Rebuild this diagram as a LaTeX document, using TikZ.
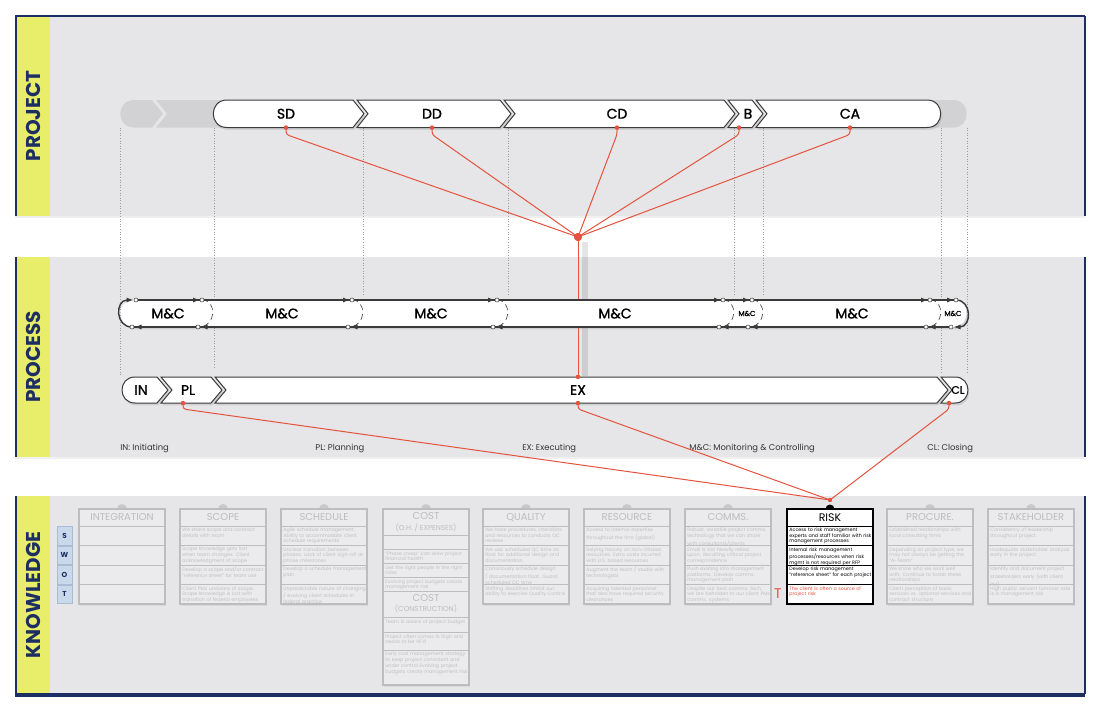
\documentclass[tikz,border=0pt]{standalone}
\usepackage{fontspec}
\setmainfont{Poppins}
\newfontfamily\phasefont{Poppins}[FakeBold=1.3]
\usetikzlibrary{shapes,arrows,shadows,calc}
\usetikzlibrary{arrows.meta}
\usetikzlibrary{positioning}
\hyphenpenalty=10000
\exhyphenpenalty=10000
\definecolor{clrNavy}{HTML}{1D2F62}
\definecolor{clrYellow}{HTML}{E9EE6A}
\definecolor{clrPanel}{HTML}{E6E6E8}
\definecolor{clrBar}{HTML}{3A3A3A}
\definecolor{clrGhost}{HTML}{D2D2D4}
\definecolor{clrGuide}{HTML}{9C9C9E}
\definecolor{clrRed}{HTML}{E4533D}
\definecolor{clrLegend}{HTML}{333333}
\definecolor{clrBoxFill}{HTML}{EBEBED}
\definecolor{clrBoxLine}{HTML}{BDBDBF}
\definecolor{clrFaintText}{HTML}{C0C0C2}
\definecolor{clrTab}{HTML}{C9C9CB}
\definecolor{clrSwot}{HTML}{C9D8EA}
\definecolor{clrSwotLine}{HTML}{A8BCD4}
\tikzstyle{panel}=[fill=clrPanel, drop shadow={shadow xshift=0pt,shadow yshift=-1.2pt,opacity=0.12}]
\tikzstyle{side}=[fill=clrYellow]
\tikzstyle{edge}=[draw=clrNavy, line width=1pt]
\tikzstyle{band_label}=[rotate=90, text=clrNavy, font=\fontsize{10}{10}\selectfont\bfseries]
\tikzstyle{guide}=[draw=clrGuide, densely dotted, line width=0.3pt]
\tikzstyle{seg}=[fill=white, draw=clrBar, line width=0.5pt, drop shadow={shadow xshift=0.6pt,shadow yshift=-1.2pt,opacity=0.22}]
\tikzstyle{ghost}=[fill=clrGhost]
\tikzstyle{phase}=[font=\phasefont\fontsize{7}{7}\selectfont, text=black, inner sep=0pt]
\tikzstyle{phase_small}=[phase, font=\phasefont\fontsize{3.6}{3.6}\selectfont]
\tikzstyle{mcline}=[draw=clrBar, line width=0.7pt]
\tikzstyle{mcloop}=[draw=clrBar, densely dashed, line width=0.3pt]
\tikzstyle{mcarr}=[mcline, -{Latex[length=3.5pt,width=2.6pt]}]
\tikzstyle{ring}=[circle, draw=clrBar, fill=white, line width=0.25pt, inner sep=0pt, minimum size=2pt]
\tikzstyle{redline}=[draw=clrRed, line width=0.5pt, rounded corners=1.5pt]
\tikzstyle{rdot}=[circle, fill=clrRed, inner sep=0pt, minimum size=2.2pt]
\tikzstyle{hubdot}=[rdot, minimum size=4pt]
\tikzstyle{legend}=[anchor=west, inner sep=0pt, font=\fontsize{4.2}{4.2}\selectfont, text=clrLegend]
\tikzstyle{kframe}=[fill=clrBoxFill, draw=clrBoxLine, line width=0.75pt, drop shadow={shadow xshift=0.5pt,shadow yshift=-1pt,opacity=0.12}]
\tikzstyle{krule}=[draw=clrBoxLine, line width=0.35pt]
\tikzstyle{ktitle}=[font=\fontsize{5}{5}\selectfont, text=clrBoxLine, inner sep=0pt]
\tikzstyle{ksub}=[font=\fontsize{3.6}{3.6}\selectfont, text=clrBoxLine, inner sep=0pt]
\tikzstyle{krow}=[anchor=north west, inner sep=0pt, text width=41.5pt, align=left, font=\fontsize{2.4}{2.85}\selectfont, text=clrFaintText]
\tikzstyle{swot}=[draw=clrSwotLine, fill=clrSwot, line width=0.3pt, minimum width=7.5pt, minimum height=9.3pt, inner sep=0pt, font=\fontsize{3.6}{3.6}\selectfont\bfseries, text=clrNavy]
% one grey knowledge card: name, left x, title, four rows
\newcommand{\kbox}[7]{%
	\fill[clrTab] (#2+43,509) circle[radius=5];
	\path[kframe] (#2,509) rectangle (#2+86,604);
	\foreach \yy in {526,545.5,565,584.5} \draw[krule] (#2,\yy) -- (#2+86,\yy);
	\node[ktitle] (#1-t) at (#2+43,517.5) {#3};
	\node[krow] (#1-1) at (#2+2,527.5) {#4};
	\node[krow] (#1-2) at (#2+2,547) {#5};
	\node[krow] (#1-3) at (#2+2,566.5) {#6};
	\node[krow] (#1-4) at (#2+2,586) {#7};
}
\def\pT{100}\def\pU{127.5}\def\pC{113.75}
\def\mT{300}\def\mU{327}\def\mC{313.5}
\def\lT{377}\def\lU{403}\def\lC{390}
\begin{document}
\begin{tikzpicture}[x=0.5pt,y=-0.5pt]
	\useasboundingbox (0,0) rectangle (1100,712);

	% bands
	\path[panel] (15,16) rectangle (1085,216);
	\path[panel] (15,257) rectangle (1085,457);
	\path[panel] (15,496) rectangle (1085,694);
	\foreach \ya/\yb in {16/216, 257/457, 496/694} {
		\fill[side] (16,\ya) rectangle (50,\yb);
		\draw[edge] (15.5,\ya) -- (15.5,\yb);
		\draw[edge] (1084.5,\ya) -- (1084.5,\yb);
	}
	\draw[edge] (15,16) -- (1085,16);
	\draw[draw=clrNavy, line width=2pt] (15,695) -- (1085,695);
	\node[band_label] (lblProject) at (33,116) {PROJECT};
	\node[band_label] (lblProcess) at (33,357) {PROCESS};
	\node[band_label] (lblKnowledge) at (33,595) {KNOWLEDGE};

	% dotted guides
	\foreach \x/\yb in {120/377, 214/367, 363/296, 508/296, 734/296, 763/296, 941/372, 967/372}
		\draw[guide] (\x,\pU) -- (\x,\yb);

	% red links
	\node[hubdot] (hub) at (578,237) {};
	\node[rdot] (dSD) at (286,\pU) {};
	\node[rdot] (dDD) at (432,\pU) {};
	\node[rdot] (dCD) at (617,\pU) {};
	\node[rdot] (dB) at (739,\pU) {};
	\node[rdot] (dCA) at (850,\pU) {};
	\node[rdot] (dEXt) at (578,\lT) {};
	\node[rdot] (dPL) at (183,\lU) {};
	\node[rdot] (dEXb) at (578,\lU) {};
	\node[rdot] (dCL) at (949,\lU) {};
	\draw[line width=3pt, black, opacity=0.1] (585,242) -- (585,376);
	\foreach \d in {dSD,dDD,dCD,dB,dCA}
		\draw[redline] (\d.center) -- ++(0,7) -- (hub.center);
	\draw[redline] (hub.center) -- (dEXt.center);

	% project phases
	\path[ghost] (134,\pT) -- (152,\pT) -- (163,\pC) -- (152,\pU) -- (134,\pU) .. controls (115.7,\pU) and (115.7,\pT) .. (134,\pT) -- cycle;
	\path[ghost] (156,\pT) -- (225,\pT) -- (225,\pU) -- (156,\pU) -- (167,\pC) -- cycle;
	\path[ghost] (930,\pT) -- (953,\pT) .. controls (971.3,\pT) and (971.3,\pU) .. (953,\pU) -- (930,\pU) -- cycle;
	\path[seg] (227,\pT) -- (353,\pT) -- (364,\pC) -- (353,\pU) -- (227,\pU) .. controls (208.7,\pU) and (208.7,\pT) .. (227,\pT) -- cycle;
	\foreach \a/\b in {357/500, 504/724, 728/752}
		\path[seg] (\a,\pT) -- (\b,\pT) -- (\b+11,\pC) -- (\b,\pU) -- (\a,\pU) -- (\a+11,\pC) -- cycle;
	\path[seg] (756,\pT) -- (927,\pT) .. controls (945.3,\pT) and (945.3,\pU) .. (927,\pU) -- (756,\pU) -- (767,\pC) -- cycle;
	\node[phase] (SD) at (286,\pC) {SD};
	\node[phase] (DD) at (432,\pC) {DD};
	\node[phase] (CD) at (617,\pC) {CD};
	\node[phase] (B) at (748,\pC) {B};
	\node[phase] (CA) at (850,\pC) {CA};
	\foreach \d in {dSD,dDD,dCD,dB,dCA} \node[rdot] at (\d) {};
	\node[hubdot] at (hub) {};

	% monitoring and controlling loop
	\fill[white, drop shadow={shadow xshift=0.6pt,shadow yshift=-1.2pt,opacity=0.22}] (134,\mT) -- (953,\mT) .. controls (971,\mT) and (971,\mU) .. (953,\mU) -- (134,\mU) .. controls (116,\mU) and (116,\mT) .. (134,\mT) -- cycle;
	\draw[mcline] (136,\mT) -- (954,\mT);
	\draw[mcline] (132,\mU) -- (951,\mU);
	\draw[mcarr] (132,\mU) .. controls (115,\mU) and (115,\mT) .. (133.5,\mT);
	\draw[mcarr] (146,\mU) -- (134.5,\mU);
	\node[ring] (rtL) at (136,\mT) {};
	\node[ring] (rbL) at (132,\mU) {};
	\foreach \b in {213,363,508,734,763,941} {
		\draw[mcloop] (\b-11,\mT) .. controls (\b+4,\mT) and (\b+4,\mU) .. (\b-15,\mU);
		\draw[mcarr] (\b-25,\mT) -- (\b-13,\mT);
		\draw[mcarr] (\b-1,\mU) -- (\b-12.5,\mU);
		\node[ring] (rt\b) at (\b-11,\mT) {};
		\node[ring] (rb\b) at (\b-15,\mU) {};
	}
	\draw[mcarr] (944,\mT) -- (954,\mT);
	\draw[mcarr] (956,\mT) .. controls (972,\mT) and (972,\mU) .. (953.5,\mU);
	\node[ring] (rtR) at (956,\mT) {};
	\node[ring] (rbR) at (951,\mU) {};
	\node[phase] (mc1) at (168,\mC) {M\&C};
	\node[phase] (mc2) at (282,\mC) {M\&C};
	\node[phase] (mc3) at (431,\mC) {M\&C};
	\node[phase] (mc4) at (615,\mC) {M\&C};
	\node[phase_small] (mc5) at (747,\mC) {M\&C};
	\node[phase] (mc6) at (852,\mC) {M\&C};
	\node[phase_small] (mc7) at (953,\mC) {M\&C};

	% process groups
	\path[seg] (135,\lT) -- (157,\lT) -- (168,\lC) -- (157,\lU) -- (135,\lU) .. controls (117.7,\lU) and (117.7,\lT) .. (135,\lT) -- cycle;
	\path[seg] (161,\lT) -- (211,\lT) -- (222,\lC) -- (211,\lU) -- (161,\lU) -- (172,\lC) -- cycle;
	\path[seg] (215,\lT) -- (937,\lT) -- (948,\lC) -- (937,\lU) -- (215,\lU) -- (226,\lC) -- cycle;
	\path[seg] (941,\lT) -- (955,\lT) .. controls (972.3,\lT) and (972.3,\lU) .. (955,\lU) -- (941,\lU) -- (952,\lC) -- cycle;
	\node[phase] (IN) at (141,\lC) {IN};
	\node[phase] (PL) at (188,\lC) {PL};
	\node[phase] (EX) at (578,\lC) {EX};
	\node[phase, font=\phasefont\fontsize{5.5}{5.5}\selectfont] (CL) at (958,\lC) {CL};
	\node[legend] (lgIN) at (120,448) {IN: Initiating};
	\node[legend] (lgPL) at (315,448) {PL: Planning};
	\node[legend] (lgEX) at (522,448) {EX: Executing};
	\node[legend] (lgMC) at (689,448) {M\&C: Monitoring \& Controlling};
	\node[legend] (lgCL) at (927,448) {CL: Closing};

	% knowledge areas
	\foreach \l/\y in {S/526, W/545.5, O/565, T/584.5}
		\node[swot] (sw\l) at (64.5,\y+9.75) {\l};
	\kbox{integ}{79}{INTEGRATION}{}{}{}{}
	\kbox{scope}{180}{SCOPE}{We share scope and contract details with team}{Scope knowledge gets lost when team changes. Client acknowledgment of scope}{Develop a scope and/or contract “reference sheet” for team use}{Client PMs unaware of scope. Scope knowledge is lost with transition of federal employees}
	\kbox{sched}{281}{SCHEDULE}{Agile schedule management. Ability to accommodate client schedule requirements}{Unclear transition between phases. Lack of client sign-off at phase milestones}{Develop a schedule management plan}{Unpredictable nature of changing / evolving client schedules in federal practice}
	\kbox{qual}{483}{QUALITY}{We have procedures, checklists and resources to conducts QC reviews}{We use scheduled QC time as float for additional design and documentation}{Consciously schedule design / documentation float. Guard scheduled QC time}{Shifting deadlines inhibit our ability to exercise Quality Control}
	\kbox{res}{584}{RESOURCE}{Access to internal expertise throughout the firm (global)}{Relying heavily on non-Ottawa resources. Extra costs incurred with U.S. based resources}{Augment the team / studio with technologists}{Acquiring talented personnel that also have required security clearances}
	\kbox{comms}{685}{COMMS.}{Robust, versatile project comms. technology that we can share with consultants/clients}{Email is too heavily relied upon. Recalling critical project correspondence}{Push existing info management platforms. Develop comms. management plan}{Despite our best comms. tech, we are beholden to our client PMs comms. systems}
	\kbox{proc}{887}{PROCURE.}{Established relationships with local consulting firms}{Depending on project type, we may not always be getting the “A-Team”}{We know who we work well with. Continue to foster these relationships}{Client perception of basic services vs. optional services and contract structure}
	\kbox{stake}{988}{STAKEHOLDER}{Consistency of leadership throughout project}{Inadequate stakeholder analysis early in the project}{Identify and document project stakeholders early (with client PM)}{High public servant turnover rate is a management risk}

	% cost card, two parts
	\fill[clrTab] (426,509) circle[radius=5];
	\path[kframe] (383,509) rectangle (469,685);
	\foreach \yy in {535,549,563,577,591,617,632,650} \draw[krule] (383,\yy) -- (469,\yy);
	\node[ktitle] (cost-t) at (426,516) {COST};
	\node[ksub] (cost-s) at (426,527.5) {(O.H. / EXPENSES)};
	\node[krow] (cost-2) at (385,551) {“Phase creep” can skew project financial health};
	\node[krow] (cost-3) at (385,565) {Get the right people in the right roles};
	\node[krow] (cost-4) at (385,579) {Evolving project budgets create management risk};
	\node[ktitle] (costc-t) at (426,598) {COST};
	\node[ksub] (costc-s) at (426,609) {(CONSTRUCTION)};
	\node[krow] (costc-1) at (385,619) {Team is aware of project budget};
	\node[krow] (costc-2) at (385,634) {Project often comes in high and needs to be VE’d};
	\node[krow] (costc-3) at (385,652) {Early cost management strategy to keep project consistent and under control Evolving project budgets create management risk};

	% risk card
	\fill[black] (830,509) circle[radius=4.5];
	\path[kframe, fill=white, draw=black, line width=1pt] (787,509) rectangle (873,604);
	\foreach \yy in {526,545.5,565,584.5} \draw[black, line width=0.35pt] (787,\yy) -- (873,\yy);
	\node[ktitle, text=black, font=\fontsize{5.5}{5.5}\selectfont] (risk-t) at (830,517.5) {RISK};
	\node[krow, text=black] (risk-1) at (789,527.5) {Access to risk management experts and staff familiar with risk management processes};
	\node[krow, text=black] (risk-2) at (789,547) {Internal risk management processes/resources when risk mgmt is not required per RFP};
	\node[krow, text=black] (risk-3) at (789,566.5) {Develop risk management “reference sheet” for each project};
	\node[krow, text=clrRed] (risk-4) at (789,586) {The client is often a source of project risk};
	\node[text=clrRed, inner sep=0pt, font=\fontsize{7}{7}\selectfont] (riskT) at (778,594) {T};

	% process to risk
	\node[rdot] (dRisk) at (830,500) {};
	\foreach \d in {dPL,dEXb,dCL}
		\draw[redline] (\d.center) -- ++(0,6) -- (dRisk.center);
	\foreach \d in {dEXt,dPL,dEXb,dCL} \node[rdot] at (\d) {};
\end{tikzpicture}
\end{document}
